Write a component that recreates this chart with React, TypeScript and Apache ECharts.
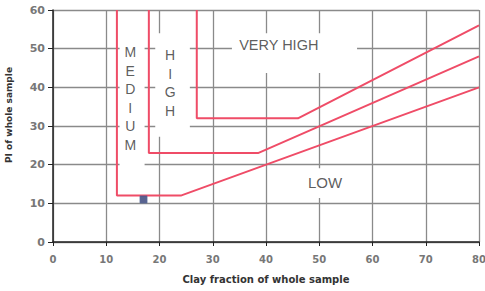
import React, { useEffect, useRef } from "react";
import * as echarts from "echarts";

const xTicks = [0, 10, 20, 30, 40, 50, 60, 70, 80];
const yTicks = [0, 10, 20, 30, 40, 50, 60];

// Boundary lines [clay fraction, PI]
const mediumLine = [[12, 60], [12, 12], [24, 12], [80, 40]];
const highLine = [[18, 60], [18, 23], [38.5, 23], [80, 48]];
const veryHighLine = [[27, 60], [27, 32], [46, 32], [80, 56]];

// Sample point
const samplePoint = [[17, 11]];

// Zone labels
const zoneNames = ["M\nE\nD\nI\nU\nM", "H\nI\nG\nH", "VERY HIGH", "LOW"];
const zoneLabelPos = [[14.5, 37.1], [22, 41.1], [42.4, 50.9], [51.1, 15.5]];
const zoneFontSizes = [14, 14, 14.5, 15];
// Blank text boxes [x1, y1, x2, y2]
const zoneBoxes = [
  [12.5, 18.5, 17.2, 52],
  [19.2, 27.2, 25.7, 54],
  [33.6, 43.7, 57.1, 54],
  [46.4, 11.4, 54.8, 19.1],
];

const RED = "#ef4c67";
const FONT = "Liberation Sans, Arial, sans-serif";
const AXFONT = "DejaVu Sans, sans-serif";

export default function App() {
  const ref = useRef<HTMLDivElement>(null);
  useEffect(() => {
    const chart = echarts.init(ref.current!, null, { renderer: "svg" });
    const lineSeries = (data: number[][]) => ({
      type: "line",
      data,
      symbol: "none",
      z: 4,
      lineStyle: { color: RED, width: 2 },
    });
    chart.setOption({
      animation: false,
      textStyle: { fontFamily: FONT },
      grid: { left: 53, right: 6, top: 10, bottom: 49, containLabel: false, outerBoundsMode: "none" },
      xAxis: {
        type: "value",
        min: xTicks[0],
        max: xTicks[xTicks.length - 1],
        interval: 10,
        name: "Clay fraction of whole sample",
        nameLocation: "middle",
        nameGap: 32,
        nameTextStyle: { fontSize: 10, fontWeight: "bold", color: "#333", fontFamily: AXFONT },
        axisLine: { lineStyle: { color: "#222", width: 1.5 } },
        axisTick: { show: true, length: 4, lineStyle: { color: "#222" } },
        axisLabel: { fontSize: 10, color: "#777", fontWeight: "bold", margin: 12, fontFamily: AXFONT },
        splitLine: { show: true, lineStyle: { color: "#8a8a8a", width: 1.3 } },
      },
      yAxis: {
        type: "value",
        min: yTicks[0],
        max: yTicks[yTicks.length - 1],
        interval: 10,
        name: "PI of whole sample",
        nameLocation: "middle",
        nameGap: 40,
        nameTextStyle: { fontSize: 9, fontWeight: "bold", color: "#333", fontFamily: AXFONT, padding: [0, 0, 0, 22] },
        axisLine: { show: true, lineStyle: { color: "#222", width: 1.5 } },
        axisTick: { show: true, length: 5, lineStyle: { color: "#222" } },
        axisLabel: { fontSize: 11, color: "#777", fontWeight: "bold", margin: 8, fontFamily: AXFONT },
        splitLine: { show: true, lineStyle: { color: "#8a8a8a", width: 1.3 } },
      },
      series: [
        {
          type: "scatter",
          data: [],
          z: 1,
          silent: true,
          markArea: {
            silent: true,
            itemStyle: { color: "#ffffff", opacity: 1 },
            label: { show: false },
            data: zoneBoxes.map((b) => [{ coord: [b[0], b[1]] }, { coord: [b[2], b[3]] }]),
          },
        },
        lineSeries(mediumLine),
        lineSeries(highLine),
        lineSeries(veryHighLine),
        {
          type: "scatter",
          data: zoneLabelPos.map((p, i) => ({
            value: p,
            name: zoneNames[i],
            label: { fontSize: zoneFontSizes[i] },
          })),
          symbolSize: 0,
          z: 5,
          label: {
            show: true,
            position: "inside",
            formatter: (p: any) => p.name,
            color: "#333",
            lineHeight: 18.6,
            fontFamily: FONT,
            align: "center",
            verticalAlign: "middle",
          },
        },
        {
          type: "scatter",
          data: samplePoint,
          symbol: "rect",
          symbolSize: 7,
          z: 6,
          itemStyle: { color: "#2f3c74", borderColor: "#5a6a9a", borderWidth: 1 },
        },
      ],
    });
    return () => chart.dispose();
  }, []);
  return (
    <div
      ref={ref}
      style={{ position: "absolute", left: 0, top: 0, width: 485, height: 291, background: "#fff" }}
    />
  );
}
